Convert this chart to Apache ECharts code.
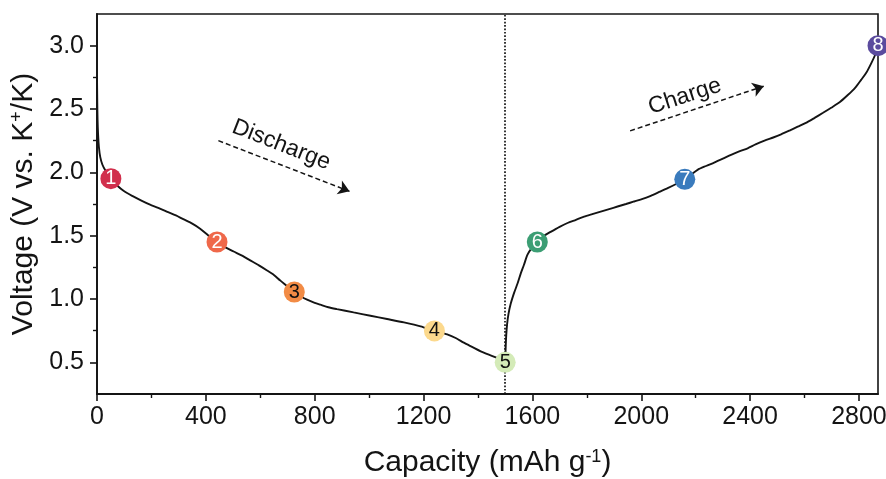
<!DOCTYPE html>
<html>
<head>
<meta charset="utf-8">
<script src="https://cdn.jsdelivr.net/npm/echarts@6/dist/echarts.min.js"></script>
<style>
  html, body { margin: 0; padding: 0; background: #fff; }
  #chart { width: 886px; height: 479px; }
</style>
</head>
<body>
<div id="chart"></div>
<script>
// Discharge branch: capacity (mAh g-1) and voltage (V vs. K+/K)
const dischargeCap = [0, 1, 2, 4, 7, 12, 20, 32, 51, 72, 100, 133, 165, 195, 225, 256, 290, 317, 350, 379, 410, 441, 470, 502, 535, 563, 595, 625, 650, 674, 700, 725, 750, 772, 800, 821, 850, 882, 943, 1005, 1066, 1128, 1189, 1240, 1287, 1320, 1348, 1380, 1410, 1440, 1470, 1500];
const dischargeVolt = [2.75, 2.55, 2.42, 2.30, 2.20, 2.12, 2.06, 2.01, 1.95, 1.90, 1.85, 1.81, 1.775, 1.745, 1.72, 1.69, 1.66, 1.63, 1.595, 1.555, 1.50, 1.45, 1.41, 1.375, 1.34, 1.305, 1.265, 1.225, 1.19, 1.145, 1.10, 1.055, 1.02, 0.995, 0.97, 0.955, 0.935, 0.92, 0.894, 0.868, 0.842, 0.815, 0.784, 0.748, 0.72, 0.69, 0.655, 0.62, 0.587, 0.56, 0.535, 0.50];

// Charge branch
const chargeCap = [1500, 1502, 1504, 1507, 1512, 1520, 1533, 1545, 1557, 1569, 1582, 1600, 1618, 1640, 1667, 1700, 1729, 1760, 1790, 1820, 1851, 1882, 1913, 1944, 1974, 2005, 2035, 2066, 2097, 2130, 2160, 2185, 2207, 2238, 2268, 2300, 2330, 2360, 2391, 2420, 2453, 2485, 2514, 2545, 2575, 2605, 2637, 2668, 2698, 2730, 2759, 2785, 2808, 2828, 2845, 2860, 2870];
const chargeVolt = [0.50, 0.63, 0.72, 0.80, 0.88, 0.96, 1.05, 1.12, 1.20, 1.27, 1.35, 1.41, 1.45, 1.495, 1.53, 1.57, 1.60, 1.625, 1.65, 1.67, 1.69, 1.71, 1.73, 1.75, 1.77, 1.79, 1.815, 1.845, 1.875, 1.91, 1.945, 1.985, 2.02, 2.05, 2.077, 2.108, 2.138, 2.165, 2.19, 2.22, 2.25, 2.275, 2.30, 2.33, 2.36, 2.39, 2.43, 2.47, 2.51, 2.555, 2.61, 2.665, 2.73, 2.79, 2.86, 2.93, 3.00];

// Numbered sampling points along the curve
const pointLabels = ['1', '2', '3', '4', '5', '6', '7', '8'];
const pointCap = [51, 441, 725, 1240, 1500, 1618, 2160, 2870];
const pointVolt = [1.95, 1.45, 1.055, 0.748, 0.50, 1.45, 1.945, 3.00];

// Axis ticks
const xMajorTicks = [0, 400, 800, 1200, 1600, 2000, 2400, 2800];
const xMinorTicks = [200, 600, 1000, 1400, 1800, 2200, 2600];
const yMajorTicks = [0.5, 1.0, 1.5, 2.0, 2.5, 3.0];
const yMinorTicks = [0.75, 1.25, 1.75, 2.25, 2.75];

// Switch between discharge and charge
const switchCap = 1500;

// Direction arrows (start, end) in data units and their captions
const dischargeArrow = [[446, 2.25], [928, 1.85]];
const chargeArrow = [[1959, 2.327], [2450, 2.68]];
const dischargeCaption = { text: 'Discharge', at: [677, 2.217], angle: -21.3 };
const chargeCaption = { text: 'Charge', at: [2160, 2.60], angle: 18.0 };

// Marker palette and label colours
const pointColors = ['#d12f4c', '#ef684a', '#f28b45', '#fcd98d', '#d4ebb8', '#3c9e74', '#3a7bbd', '#5b4b9e'];
const pointTextColors = ['#fff', '#fff', '#111', '#111', '#111', '#fff', '#fff', '#fff'];

const FONT = '"Liberation Sans", Arial, sans-serif';
const INK = '#141414';

const pairs = (xs, ys) => xs.map((x, i) => [x, ys[i]]);

// Fixed plot rectangle; the outer-bounds fitting is turned off so the titles may sit near the edges
const gridBox = { left: 97, right: 8, top: 14, bottom: 85, outerBoundsMode: 'none', containLabel: false };

const chart = echarts.init(document.getElementById('chart'), null, { renderer: 'canvas' });

const supStyle = { fontFamily: FONT, fontSize: 18, color: INK, verticalAlign: 'top', lineHeight: 18 };

const option = {
  animation: false,
  backgroundColor: '#fff',
  grid: [
    Object.assign({ show: true, borderColor: INK, borderWidth: 1.6, backgroundColor: 'transparent' }, gridBox),
    Object.assign({ show: false }, gridBox)
  ],
  xAxis: [
    {
      type: 'value', gridIndex: 0, min: 0, max: 2870, interval: 400,
      name: 'Capacity (mAh g{s|-1})',
      nameLocation: 'middle', nameGap: 54,
      nameTextStyle: { fontFamily: FONT, fontSize: 30, color: INK, rich: { s: supStyle } },
      axisLine: { show: true, lineStyle: { color: INK, width: 1.8 } },
      axisTick: { show: true, customValues: xMajorTicks, length: 7, lineStyle: { color: INK, width: 1.6 } },
      axisLabel: {
        customValues: xMajorTicks, fontFamily: FONT, fontSize: 25, color: INK, margin: 11,
        formatter: v => String(v)
      },
      splitLine: { show: false }
    },
    {
      type: 'value', gridIndex: 1, min: 0, max: 2870, interval: 200,
      axisLine: { show: false },
      axisTick: { show: true, customValues: xMinorTicks, length: 4, lineStyle: { color: INK, width: 1.4 } },
      axisLabel: { show: false },
      splitLine: { show: false }
    }
  ],
  yAxis: [
    {
      type: 'value', gridIndex: 0, min: 0.25, max: 3.25, interval: 0.25,
      name: 'Voltage (V vs. K{s|+}/K)',
      nameLocation: 'middle', nameGap: 47,
      nameTextStyle: { fontFamily: FONT, fontSize: 30, color: INK, rich: { s: supStyle } },
      axisLine: { show: true, lineStyle: { color: INK, width: 1.8 } },
      axisTick: { show: true, customValues: yMajorTicks, length: 7, lineStyle: { color: INK, width: 1.6 } },
      axisLabel: {
        customValues: yMajorTicks, fontFamily: FONT, fontSize: 25, color: INK, margin: 13,
        formatter: v => v.toFixed(1)
      },
      splitLine: { show: false }
    },
    {
      type: 'value', gridIndex: 1, min: 0.25, max: 3.25, interval: 0.25,
      axisLine: { show: false },
      axisTick: { show: true, customValues: yMinorTicks, length: 4, lineStyle: { color: INK, width: 1.4 } },
      axisLabel: { show: false },
      splitLine: { show: false }
    }
  ],
  series: [
    {
      name: 'Discharge', type: 'line', xAxisIndex: 0, yAxisIndex: 0,
      data: pairs(dischargeCap, dischargeVolt),
      showSymbol: false, smooth: 0.25,
      lineStyle: { color: INK, width: 1.9 },
      z: 3,
      markLine: {
        silent: true, symbol: ['none', 'none'], animation: false,
        label: { show: false },
        lineStyle: { color: INK, type: 'dotted', width: 1.7 },
        data: [{ xAxis: switchCap }]
      }
    },
    {
      name: 'Charge', type: 'line', xAxisIndex: 0, yAxisIndex: 0,
      data: pairs(chargeCap, chargeVolt),
      showSymbol: false, smooth: 0.25,
      lineStyle: { color: INK, width: 1.9 },
      z: 3,
      markLine: {
        silent: true, animation: false,
        symbol: ['none', 'arrow'], symbolSize: 11,
        label: { show: false },
        lineStyle: { color: INK, type: [5, 3], width: 1.5 },
        itemStyle: { color: INK },
        data: [
          [{ coord: dischargeArrow[0] }, { coord: dischargeArrow[1] }],
          [{ coord: chargeArrow[0] }, { coord: chargeArrow[1] }]
        ]
      }
    },
    {
      name: 'Points', type: 'scatter', xAxisIndex: 0, yAxisIndex: 0,
      symbol: 'circle', symbolSize: 21, z: 5,
      itemStyle: { opacity: 1 },
      data: pointCap.map((c, i) => ({
        value: [c, pointVolt[i]],
        itemStyle: { color: pointColors[i], opacity: 1 },
        label: { color: pointTextColors[i] }
      })),
      label: {
        show: true, position: 'inside',
        fontFamily: FONT, fontSize: 20,
        formatter: p => pointLabels[p.dataIndex]
      },
      emphasis: { disabled: true }
    }
  ]
};

chart.setOption(option);

// Rotated captions next to the arrows, anchored in data coordinates
function caption(c) {
  const p = chart.convertToPixel({ gridIndex: 0 }, c.at);
  return {
    type: 'text', x: p[0], y: p[1], z: 10,
    rotation: c.angle * Math.PI / 180,
    style: { text: c.text, fontFamily: FONT, fontSize: 23, fill: INK, align: 'center', verticalAlign: 'middle' }
  };
}
chart.setOption({ graphic: [caption(dischargeCaption), caption(chargeCaption)] });
</script>
</body>
</html>
